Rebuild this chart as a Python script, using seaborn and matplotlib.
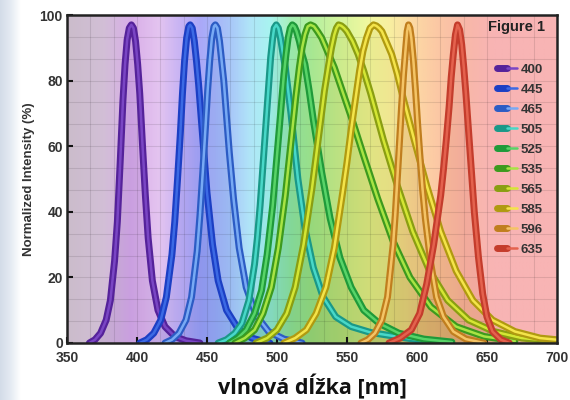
import numpy as np
import pandas as pd
import matplotlib
matplotlib.use("Agg")
import matplotlib.pyplot as plt
import seaborn as sns
from matplotlib.colors import LinearSegmentedColormap
from matplotlib.lines import Line2D
from matplotlib.legend_handler import HandlerTuple
from matplotlib.ticker import MultipleLocator

# ---------------- data ----------------
labels = ["400", "445", "465", "505", "525", "535", "565", "585", "596", "635"]

wl_400 = [366, 370, 374, 378, 381, 384, 386, 388, 390, 391.5, 393, 394.5, 396, 397.5, 399, 400.5, 402,
          404, 406, 408, 411, 415, 420, 427, 435, 445]
in_400 = [0, 1, 3, 7, 13, 25, 37, 55, 74, 85, 92.5, 96, 97, 96, 92, 85, 76,
          60, 45, 32, 19, 10, 5, 2, 0.7, 0]

wl_445 = [402, 407, 412, 417, 421, 425, 427, 429, 431, 432.5, 434, 435.5, 437, 438, 439.5, 441, 442.5,
          444, 446, 448, 450, 454, 458, 464, 472, 482, 495]
in_445 = [0, 1, 3, 7, 14, 27, 37, 50, 64, 76, 86, 93, 96.5, 97, 96, 92, 86,
          79, 68, 57, 46, 30, 19, 10, 4.5, 1.5, 0]

wl_465 = [420, 425, 430, 435, 439, 443, 445, 447, 449, 450.5, 452, 453.5, 455, 456, 457.5, 459, 460.5,
          462, 464, 466, 469, 473, 478, 485, 494, 505, 518]
in_465 = [0, 1, 3, 7, 14, 28, 39, 52, 66, 77, 86, 93, 96.5, 97, 96, 92, 86,
          80, 69, 58, 44, 29, 17, 8.5, 3.5, 1.2, 0]

wl_505 = [458, 464, 470, 475, 480, 484, 486, 488, 490, 492, 494, 495.5, 497, 498, 499.5, 501, 502.5,
          504, 506, 508, 510, 512.5, 515, 520, 526, 533, 542, 553, 567, 585, 605]
in_505 = [0, 1, 3, 6, 13, 24, 32, 42, 54, 66, 78, 87, 93, 96, 97, 96, 93,
          89, 84, 77, 70, 60, 50, 35, 23, 14, 8, 5, 3.2, 2, 0.7]

wl_525 = [466, 472, 478, 484, 489, 493, 497, 499, 501, 503, 505, 506.5, 508, 509.5, 511, 512.5, 514,
          516, 518, 520, 523, 526, 532, 538, 545, 553, 562, 573, 587, 605, 625]
in_525 = [0, 1.5, 4, 9, 16, 27, 42, 52, 62, 72, 82, 88, 93, 96, 97, 96.5, 95,
          92, 88, 85, 77, 68, 52, 38, 26, 17, 10, 6, 3, 1.2, 0.3]

wl_535 = [470, 477, 484, 490, 496, 501, 506, 508.5, 511, 513.5, 516, 518, 520, 522, 524, 526.5, 529,
          532, 535, 537, 541, 545, 553, 562, 572, 583, 595, 610, 628, 648, 670]
in_535 = [0, 1.5, 4, 9, 17, 29, 45, 55, 65, 75, 84, 90, 94, 96.5, 97, 96.5, 95,
          93, 90, 88, 84, 79, 69, 57, 44, 31, 20, 11, 5, 2, 0.6]

wl_565 = [485, 493, 500, 507, 513, 519, 525, 528, 531, 534, 537, 539, 541, 542.5, 544, 546, 548,
          550, 554, 558, 562, 567, 576, 586, 597, 609, 622, 637, 655, 675, 700]
in_565 = [0, 1.5, 4, 9, 17, 30, 47, 57, 67, 77, 85, 90, 94, 96, 97, 96.7, 96,
          95, 92, 88, 83, 76, 62, 48, 34, 22, 13, 7, 3.5, 1.5, 0.5]

wl_585 = [505, 513, 521, 528, 535, 541, 547, 550, 553, 556, 559, 561.5, 564, 566.5, 569, 571, 573,
          575, 578, 582, 586, 590, 598, 607, 617, 628, 640, 654, 670, 688, 700]
in_585 = [0, 1.5, 4, 9, 17, 29, 46, 55, 65, 74, 83, 89, 93, 96, 97, 96.7, 96,
          95, 92, 88, 82, 75, 62, 48, 34, 22, 13, 7, 3.5, 1.5, 1]

wl_596 = [560, 565, 570, 575, 579, 583, 584.5, 586, 587.5, 589, 590.5, 592, 593, 594, 595, 596, 597.5,
          599, 600.5, 602, 604, 606, 610, 614, 619, 626, 635, 648]
in_596 = [0, 1, 3, 7, 14, 30, 39, 50, 61, 72, 82, 90, 95, 97, 96, 93, 86,
          77, 67, 58, 47, 38, 24, 14, 8, 3.5, 1.2, 0]

wl_635 = [580, 588, 596, 602, 607, 612, 617, 619, 621, 623, 624.5, 626, 627.5, 629, 630.5, 632, 633.5,
          635, 636.5, 638, 641, 644, 647, 650, 654, 660, 666]
in_635 = [0, 1.5, 4, 9, 18, 30, 45, 53, 62, 72, 81, 88, 94, 97, 95.5, 91, 84,
          76, 67, 58, 40, 26, 15, 8, 3.5, 1, 0]

x_ticks = [350, 400, 450, 500, 550, 600, 650, 700]
y_ticks = [0, 20, 40, 60, 80, 100]

# ---------------- styling ----------------
outer_colors = ["#55229a", "#1c3fc4", "#2c5cc4", "#1a9888", "#1f9a3a", "#3d9a1e",
                "#8a9e12", "#b09a10", "#c07e1e", "#c43c2c"]
inner_colors = ["#7a46c4", "#3c6ae4", "#78aaf4", "#48d8c8", "#58d468", "#a8e444",
                "#d4e634", "#f4e44a", "#f4c466", "#e4624e"]

series = [
    (labels[0], wl_400, in_400), (labels[1], wl_445, in_445), (labels[2], wl_465, in_465),
    (labels[3], wl_505, in_505), (labels[4], wl_525, in_525), (labels[5], wl_535, in_535),
    (labels[6], wl_565, in_565), (labels[7], wl_585, in_585), (labels[8], wl_596, in_596),
    (labels[9], wl_635, in_635),
]

sns.set_theme(style="ticks")
plt.rcParams["font.family"] = ["Liberation Sans", "DejaVu Sans"]

fig = plt.figure(figsize=(5.7, 4.0), dpi=100)
fig.patch.set_facecolor("white")

# left slide strip
strip = fig.add_axes([0, 0, 0.036, 1])
strip.imshow(np.linspace(0, 1, 50).reshape(1, -1), aspect="auto",
             cmap=LinearSegmentedColormap.from_list("s", ["#d3dce8", "#e4eaf2", "#ffffff"]),
             extent=[0, 1, 0, 1])
strip.set_axis_off()

ax = fig.add_axes([0.1175, 0.1425, 0.8595, 0.82])

# spectral background
bg_nodes = [(350, "#cbbccb"), (375, "#d2bfd6"), (395, "#d8aee8"), (415, "#e4c4f0"),
            (430, "#c8b4f4"), (445, "#aaa8f8"), (465, "#a8c4f8"), (480, "#b0e4f8"),
            (495, "#a8f4f0"), (510, "#a8f0b8"), (525, "#b4f0a0"), (545, "#d4f49c"),
            (565, "#f0f8a0"), (580, "#f8f0a0"), (595, "#fcdca4"), (615, "#fcc8a4"),
            (635, "#f8b8a8"), (655, "#f8b4b4"), (700, "#f8b4b4")]
cmap = LinearSegmentedColormap.from_list(
    "spec", [((w - 350) / 350, c) for w, c in bg_nodes])
ax.imshow(np.linspace(0, 1, 700).reshape(1, -1), aspect="auto", cmap=cmap,
          extent=[350, 700, 0, 100], zorder=0)

# fills under curves
for (lab, wl, inten), oc in zip(series, outer_colors):
    ax.fill_between(wl, inten, 0, color=oc, alpha=0.10, lw=0, zorder=1)

# curves (double stroke)
for (lab, wl, inten), oc, ic in zip(series, outer_colors, inner_colors):
    df = pd.DataFrame({"wl": wl, "I": inten})
    sns.lineplot(data=df, x="wl", y="I", ax=ax, color=oc, linewidth=5.0,
                 estimator=None, sort=False, legend=False, zorder=3,
                 solid_joinstyle="round", solid_capstyle="round")
    sns.lineplot(data=df, x="wl", y="I", ax=ax, color=ic, linewidth=1.8,
                 estimator=None, sort=False, legend=False, zorder=3,
                 solid_joinstyle="round", solid_capstyle="round")

ax.set_xlim(350, 700)
ax.set_ylim(0, 100)
ax.set_xticks(x_ticks)
ax.set_yticks(y_ticks)
ax.xaxis.set_minor_locator(MultipleLocator(50 / 3))
ax.yaxis.set_minor_locator(MultipleLocator(20 / 3))
ax.grid(which="both", color="#000000", alpha=0.10, lw=0.8, zorder=2)
ax.set_axisbelow(False)
ax.tick_params(which="major", direction="in", length=4, width=1.5, color="#111111",
               labelsize=10, labelcolor="#333333")
ax.tick_params(axis="x", which="major", pad=6)
ax.tick_params(axis="y", which="major", pad=3)
ax.tick_params(which="minor", length=0)
for t in ax.get_xticklabels() + ax.get_yticklabels():
    t.set_fontweight("bold")
for sp in ax.spines.values():
    sp.set_visible(True)
    sp.set_linewidth(1.8)
    sp.set_color("#222222")
    sp.set_zorder(5)

ax.set_xlabel("")
ax.set_ylabel("Normalized Intensity (%)", fontsize=9.5, fontweight="bold", color="#333333",
              labelpad=3)
fig.text(0.549, 0.033, "vlnová dĺžka [nm]", ha="center", va="center", fontsize=15.5,
         fontweight="bold", color="#111111", family=["Open Sans", "DejaVu Sans"])

# legend
handles = [(Line2D([], [], color=oc, lw=5, solid_capstyle="round"),
            Line2D([], [], color=ic, lw=1.8, solid_capstyle="round"))
           for oc, ic in zip(outer_colors, inner_colors)]
leg = ax.legend(handles, labels, handler_map={tuple: HandlerTuple(ndivide=None, pad=0)},
                loc="upper right", bbox_to_anchor=(0.972, 0.852), frameon=False,
                borderpad=0, borderaxespad=0, handlelength=1.5, handletextpad=0.3,
                labelspacing=0.59, prop={"size": 9.5, "weight": "bold"})
for t in leg.get_texts():
    t.set_color("#333333")
leg.set_zorder(6)
ax.text(0.918, 0.963, "Figure 1", transform=ax.transAxes, ha="center", va="center",
        fontsize=10.5, fontweight="bold", color="#222222", zorder=6)

fig.savefig("out.png", dpi=100)
